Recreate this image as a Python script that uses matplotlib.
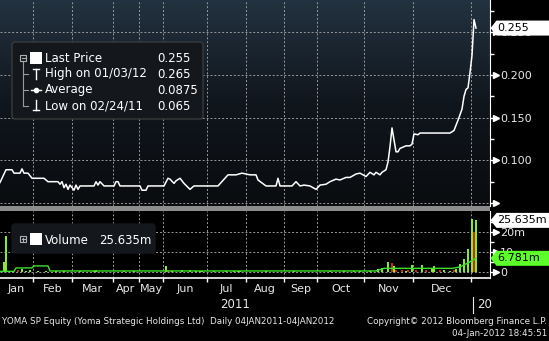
import numpy as np
import matplotlib
matplotlib.use('agg')
import matplotlib.pyplot as plt
from matplotlib.colors import LinearSegmentedColormap
from matplotlib.patches import Rectangle, Polygon, FancyBboxPatch
from matplotlib.lines import Line2D
from matplotlib.transforms import IdentityTransform, blended_transform_factory

# ---- data (x = trading session index since 04JAN2011) ----
price_sessions = [0, 3, 6, 7, 10, 11, 12, 14, 16, 22, 24, 29, 30, 31, 32, 33, 34, 35, 37, 38,
                  39, 40, 47, 48, 49, 50, 52, 57, 58, 59, 60, 70, 71, 73, 74, 82, 84, 85, 87, 88,
                  90, 92, 95, 97, 109, 114, 118, 121, 125, 128, 129, 133, 138, 139, 140, 146, 148,
                  150, 152, 155, 158, 160, 163, 165, 168, 170, 173, 175, 178, 180, 183, 185, 187,
                  188, 190, 191, 193, 194, 195, 196, 198, 199, 200, 203, 205, 206, 207, 209, 210,
                  213, 225, 227, 229, 231, 232, 233, 234, 235, 236, 237, 238]
price_values = [0.074, 0.089, 0.089, 0.085, 0.085, 0.090, 0.085, 0.085, 0.079, 0.079, 0.075,
                0.075, 0.072, 0.075, 0.068, 0.072, 0.066, 0.071, 0.065, 0.071, 0.066, 0.070,
                0.070, 0.075, 0.071, 0.075, 0.070, 0.070, 0.075, 0.075, 0.070, 0.070, 0.065,
                0.065, 0.070, 0.070, 0.079, 0.078, 0.073, 0.076, 0.079, 0.073, 0.066, 0.070,
                0.070, 0.083, 0.083, 0.085, 0.083, 0.083, 0.077, 0.070, 0.070, 0.079, 0.070,
                0.070, 0.075, 0.070, 0.071, 0.070, 0.066, 0.071, 0.072, 0.075, 0.078, 0.077,
                0.080, 0.080, 0.084, 0.085, 0.081, 0.086, 0.083, 0.086, 0.083, 0.086, 0.089,
                0.098, 0.116, 0.138, 0.110, 0.110, 0.114, 0.117, 0.117, 0.119, 0.131, 0.130,
                0.132, 0.132, 0.132, 0.135, 0.147, 0.160, 0.175, 0.183, 0.185, 0.203, 0.223,
                0.265, 0.255]
avg_price = 0.0875

vol_sessions = [1, 2, 3, 6, 9, 11, 13, 15, 19, 23, 28, 32, 40, 47, 48, 62, 67, 83, 84, 86, 91,
                95, 98, 100, 101, 107, 113, 117, 119, 120, 133, 147, 165, 172, 177, 180, 185,
                189, 191, 194, 196, 197, 198, 201, 203, 204, 206, 208, 211, 213, 216, 217, 220,
                222, 225, 227, 228, 230, 232, 234, 236, 237, 238]
vol_values = [0.5, 5.0, 18.0, 0.5, 0.8, 1.5, 0.5, 1.0, 0.5, 0.6, 0.5, 0.6, 0.7, 0.6, 0.8, 0.5,
              0.5, 3.0, 0.8, 0.5, 1.0, 0.8, 0.6, 0.5, 0.6, 0.6, 0.5, 0.6, 0.5, 0.5, 0.6, 0.5,
              0.5, 0.5, 0.5, 0.5, 0.7, 1.5, 2.2, 5.0, 4.5, 3.0, 0.8, 1.0, 0.6, 1.0, 3.5, 1.0,
              3.5, 1.0, 1.5, 3.0, 1.0, 0.8, 0.6, 0.8, 1.5, 4.0, 6.5, 11.5, 26.5, 20.0, 25.635]
vol_down = [1, 0, 0, 1, 1, 0, 0, 0, 0, 0, 0, 0, 0, 0, 0, 0, 0, 0, 1, 0, 0, 0, 0, 0, 0, 0, 0,
            0, 0, 0, 0, 0, 0, 0, 0, 0, 0, 0, 0, 0, 1, 0, 1, 1, 0, 1, 0, 1, 0, 1, 0, 0, 1, 0,
            0, 1, 0, 0, 0, 0, 0, 1, 0]
ma_sessions = [0, 7, 8, 16, 17, 24, 25, 188, 192, 226, 230, 234, 238]
ma_values = [0.3, 0.3, 2.0, 2.0, 3.0, 3.0, 0.5, 0.5, 1.8, 1.8, 2.5, 4.5, 6.781]

month_starts = [16.5, 36, 56.5, 69.5, 81.5, 103.5, 123, 142, 158.5, 182, 206.5, 235.5]
months = ['Jan', 'Feb', 'Mar', 'Apr', 'May', 'Jun', 'Jul', 'Aug', 'Sep', 'Oct', 'Nov', 'Dec']
legend_labels = ['Last Price', 'High on 01/03/12', 'Average', 'Low on 02/24/11']

W, H = 549, 341
GREEN = '#84ec2e'
RED = '#d02a00'
TXT = '#e8e8e8'
GRID = '#9a9a9a'
ID = IdentityTransform()

fig = plt.figure(figsize=(W / 100, H / 100), dpi=100, facecolor='black')
ax_p = fig.add_axes([0, 1 - 206 / H, 489.5 / W, 206 / H])
ax_v = fig.add_axes([0, 1 - 278 / H, 489.5 / W, 67 / H])

# price panel
bg = LinearSegmentedColormap.from_list('bg', ['#0a0c0f', '#10161d', '#233240'])
ax_p.imshow(np.linspace(0, 1, 256).reshape(-1, 1), cmap=bg, origin='lower',
            extent=[0, 1, 0, 1], transform=ax_p.transAxes, aspect='auto', zorder=0)
ax_p.plot(price_sessions, price_values, color='white', lw=1.1, zorder=3)
ax_p.set_xlim(0, 244.75)
ax_p.set_ylim(0.0465, 0.2879)
ax_p.set_yticks([0.05, 0.10, 0.15, 0.20, 0.25])
ax_p.set_yticklabels(['', '0.100', '0.150', '0.200', '0.250'])
ax_p.set_yticks([0.075, 0.125, 0.175, 0.225, 0.275], minor=True)

# volume panel
ax_v.set_facecolor('black')
ax_v.bar(vol_sessions, vol_values, width=1.4, linewidth=0, zorder=3,
         color=[RED if d else GREEN for d in vol_down])
ax_v.plot(ma_sessions, ma_values, color='#3fe02a', lw=1.0, zorder=4)
ax_v.set_xlim(0, 244.75)
ax_v.set_ylim(-3.0, 30.3)
ax_v.set_yticks([0, 10, 20])
ax_v.set_yticklabels(['0', '10', '20m'])
ax_v.set_yticks([5, 15, 25], minor=True)

mids = [(a + b) / 2 for a, b in zip([0] + month_starts[:-1], month_starts)]
for ax in (ax_p, ax_v):
    ax.set_xticks(month_starts)
    ax.grid(True, color=GRID, ls=(0, (2, 2)), lw=0.7, zorder=1)
    ax.yaxis.tick_right()
    for s in ('left', 'top', 'bottom'):
        ax.spines[s].set_visible(False)
    ax.spines['right'].set_color('white')
    ax.tick_params(axis='y', which='major', length=3.5, width=1, color='white',
                   pad=4, labelsize=8, labelcolor=TXT)
    ax.tick_params(axis='y', which='minor', length=3, width=1, color='white')
    tr = blended_transform_factory(ax.transAxes, ax.transData)
    ax.plot([1 + 6 / 489.5] * len(ax.get_yticks()), ax.get_yticks(), ls='none',
            marker='>', ms=4, color='white', transform=tr, clip_on=False, zorder=6)
ax_p.tick_params(axis='x', length=0, labelbottom=False)
ax_v.spines['bottom'].set_visible(True)
ax_v.spines['bottom'].set_color('white')
ax_v.spines['bottom'].set_linewidth(1.2)
ax_v.set_xticklabels([''] * len(month_starts))
ax_v.set_xticks(mids, minor=True)
ax_v.set_xticklabels(months, minor=True)
ax_v.tick_params(axis='x', which='major', length=3, width=1, color='white', direction='out')
ax_v.tick_params(axis='x', which='minor', length=0, pad=4, labelsize=8, labelcolor=TXT)

# separator band
fig.add_artist(Rectangle((0, 1 - 211 / H), 489.5 / W, 5 / H, transform=fig.transFigure,
                         fc='#8c8c8c', ec='none', zorder=4))


def px(x, y):
    return x, H - y


def tag(ax, value, text, fc, tc):
    x0 = ax.transAxes.transform((1, 0))[0]
    y = ax.transData.transform((0, value))[1]
    h = 7.5
    pts = [(x0 + 1, y), (x0 + 7, y + h), (W, y + h), (W, y - h), (x0 + 7, y - h)]
    fig.add_artist(Polygon(pts, closed=True, transform=ID, fc=fc, ec='none', zorder=10))
    fig.text(x0 + 7.5, y, text, transform=ID, color=tc, fontsize=8, va='center', zorder=11)


def line(xs, ys, **kw):
    fig.add_artist(Line2D(xs, [H - y for y in ys], transform=ID, zorder=7, **kw))


last, high, low = price_values[-1], max(price_values), min(price_values)
tag(ax_p, last, '%.3f' % last, 'white', 'black')
tag(ax_v, vol_values[-1], '%.3fm' % vol_values[-1], 'white', 'black')
tag(ax_v, ma_values[-1], '%.3fm' % ma_values[-1], '#5cff2a', 'black')

# price legend
fig.add_artist(FancyBboxPatch(px(12, 119), 191, 77, boxstyle='round,pad=0,rounding_size=3',
                              transform=ID, fc='#14181d', ec='#3a3a3a', lw=1, zorder=5))
rows = [58, 74, 90, 106]
vals = ['%.3f' % last, '%.3f' % high, '%.4f' % avg_price, '%.3f' % low]
for y, lab, v in zip(rows, legend_labels, vals):
    fig.text(45, H - y, lab, transform=ID, color='white', fontsize=8.5, va='center', zorder=8)
    fig.text(157, H - y, v, transform=ID, color='white', fontsize=8.5, va='center', zorder=8)
fig.add_artist(Rectangle(px(20, 61), 6, 6, transform=ID, fill=False, ec='#b0b0b0', lw=0.8, zorder=7))
line([21.5, 24.5], [58, 58], color='#b0b0b0', lw=0.8)
fig.add_artist(Rectangle(px(30, 64), 12, 12, transform=ID, fc='white', ec='none', zorder=7))
line([23, 23], [62, 106], color=GRID, lw=0.8)
for y in rows[1:]:
    line([23, 28], [y, y], color=GRID, lw=0.8)
line([36, 36], [69, 79], color='white', lw=1)
line([33, 39], [69, 69], color='white', lw=1)
line([31, 41], [90, 90], color='white', lw=1)
line([36], [90], color='white', marker='o', ms=3)
line([36, 36], [100, 110], color='white', lw=1)
line([33, 39], [110, 110], color='white', lw=1)

# volume legend
fig.add_artist(FancyBboxPatch(px(12, 253), 143, 29, boxstyle='round,pad=0,rounding_size=3',
                              transform=ID, fc='#14181d', ec='#14181d', lw=1, zorder=5))
fig.add_artist(Rectangle(px(20, 242), 6, 6, transform=ID, fill=False, ec='#b0b0b0', lw=0.8, zorder=7))
line([21.5, 24.5], [239, 239], color='#b0b0b0', lw=0.8)
line([23, 23], [237.5, 240.5], color='#b0b0b0', lw=0.8)
fig.add_artist(Rectangle(px(30, 245), 12, 12, transform=ID, fc='white', ec='none', zorder=7))
fig.text(45, H - 240, 'Volume', transform=ID, color='white', fontsize=8.5, va='center', zorder=8)
fig.text(99, H - 240, '%.3fm' % vol_values[-1], transform=ID, color='white', fontsize=8.5,
         va='center', zorder=8)

# year labels and footer
fig.text(235, H - 305, '2011', transform=ID, color=TXT, fontsize=8.5, ha='center', va='center')
xj = ax_v.transData.transform((month_starts[-1], 0))[0]
line([xj + 2, xj + 2], [297, 313], color=TXT, lw=0.8)
fig.text(xj + 6, H - 305, '20', transform=ID, color=TXT, fontsize=8.5, va='center')
fig.text(2, H - 322, 'YOMA SP Equity (Yoma Strategic Holdings Ltd)  Daily 04JAN2011-04JAN2012',
         transform=ID, color=TXT, fontsize=6.3, va='center')
fig.text(547, H - 322, 'Copyright\u00a9 2012 Bloomberg Finance L.P.', transform=ID, color=TXT,
         fontsize=6.3, va='center', ha='right')
fig.text(547, H - 334, '04-Jan-2012 18:45:51', transform=ID, color=TXT, fontsize=6.3,
         va='center', ha='right')

fig.savefig('out.png', dpi=100, facecolor='black')
